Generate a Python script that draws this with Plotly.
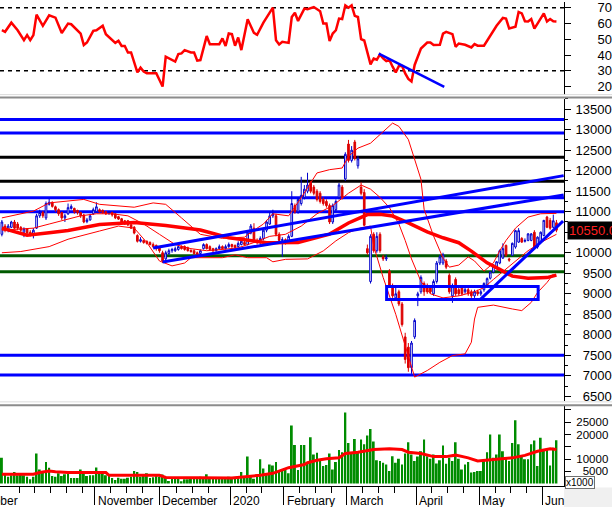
import plotly.graph_objects as go

# ----------------------------- DATA -----------------------------
# trading-day index 0..176 (mid-Oct 2019 -> early Jun 2020), prices in VND
opens = [10450,10650,10550,10620,10750,10700,10620,10500,10580,10500,
         10450,10600,10900,10980,10850,11180,11230,11120,11050,10980,
         10850,10950,11080,11080,11030,10980,10920,10760,10800,10950,
         11000,11050,11030,11000,10950,10980,10950,10880,10830,10780,
         10780,10680,10620,10420,10280,10300,10280,10250,10200,10180,
         10120,10000,9850,9980,10050,10050,10080,10150,10150,10120,
         10060,10050,10000,9980,10100,10200,10150,10100,10050,10100,
         10150,10100,10150,10200,10180,10150,10200,10250,10200,10480,
         10600,10300,10280,10350,10550,10700,10900,10900,10450,10300,
         10320,10300,10400,11150,11000,11200,11350,11500,11700,11600,
         11500,11450,11300,11250,11150,10750,11050,11350,11600,11800,
         12650,12250,12700,12120,11600,11470,10100,9300,10450,10050,
         10450,9900,9850,9550,9200,8900,9050,8750,7950,7700,
         7200,7950,8950,9050,9250,9200,9150,9000,9300,9750,
         9750,9800,9450,8950,9350,9100,9150,9050,9100,9050,
         8950,9050,9000,9100,9210,9380,9530,9620,9750,9870,
         10180,9850,9940,10140,10260,10350,10280,10300,10300,10500,
         10140,10260,10420,10870,10790,10620,10730]
highs = [10800,10700,10700,10780,10800,10750,10650,10620,10600,10550,
         10600,10950,11050,11020,11250,11320,11250,11150,11080,11000,
         10950,11200,11180,11100,11050,11000,10950,10850,10950,11100,
         11230,11080,11060,11020,11020,11000,10960,10900,10850,10800,
         10800,10700,10650,10450,10380,10320,10300,10280,10250,10200,
         10150,10050,10050,10100,10120,10150,10180,10180,10180,10150,
         10080,10080,10030,10080,10230,10230,10180,10120,10130,10200,
         10180,10200,10250,10220,10200,10280,10320,10300,10550,10700,
         10720,10350,10400,10600,10800,11000,11050,10950,10500,10380,
         10350,10450,11500,11200,11350,11850,11650,11950,11750,11650,
         11550,11500,11350,11300,11200,11200,11300,11700,11650,12450,
         12750,12600,12750,12360,11720,11550,10200,10450,10500,10500,
         10500,9950,9950,9600,9250,9150,9100,8800,8050,7800,
         7850,8400,9050,9450,9300,9250,9200,9350,9800,9950,
         10000,9850,9500,9250,9400,9150,9200,9150,9150,9100,
         9100,9100,9100,9280,9400,9550,9720,9800,10080,10230,
         10200,9880,10250,10560,10600,10380,10350,10480,10480,10550,
         10400,10520,10800,10900,10850,10930,10800]
lows = [10400,10500,10500,10600,10580,10550,10500,10380,10450,10400,
        10350,10580,10850,10850,10800,11150,11100,11000,10900,10800,
        10750,10920,11050,10950,10930,10850,10720,10720,10780,10920,
        10980,10980,10950,10920,10930,10880,10820,10800,10730,10680,
        10650,10580,10450,10250,10250,10220,10200,10180,10120,10050,
        10000,9750,9820,9950,10000,10020,10050,10080,10050,10030,
        10000,9950,9920,9950,10080,10080,10050,10020,10030,10080,
        10080,10080,10120,10120,10100,10130,10180,10180,10180,10450,
        10280,10200,10150,10300,10500,10680,10850,10400,10250,9900,
        10200,10250,10380,10950,10950,11150,11300,11450,11450,11400,
        11250,11200,11150,11100,10700,10700,11000,11300,11300,11750,
        12200,12200,12250,12050,11400,10650,9950,9250,10000,10000,
        10000,9800,9800,9150,8900,8850,8700,8200,7300,7100,
        7050,7900,8700,9000,8950,9000,9000,8950,9250,9700,
        9700,9600,9000,8780,8950,8950,8950,9000,8950,8900,
        8900,8950,8950,9050,9180,9350,9500,9600,9720,9850,
        9900,9780,9920,10100,10240,10240,10250,10280,10280,10120,
        10100,10240,10400,10600,10560,10600,10500]
closes = [10750,10550,10650,10750,10600,10600,10550,10580,10480,10450,
          10550,10900,10980,10900,11200,11230,11130,11050,10950,10850,
          10900,11100,11130,11000,10980,10900,10750,10800,10900,11050,
          11120,11000,10980,10950,10980,10920,10850,10820,10750,10700,
          10680,10600,10480,10280,10320,10250,10230,10200,10150,10100,
          10050,9800,10000,10050,10080,10100,10150,10100,10080,10050,
          10030,9980,9950,10050,10200,10100,10080,10050,10100,10150,
          10100,10150,10200,10150,10130,10230,10280,10200,10480,10650,
          10300,10250,10350,10550,10750,10900,10950,10450,10300,10320,
          10280,10400,11200,11000,11300,11400,11550,11650,11500,11450,
          11300,11250,11200,11150,10750,11150,11250,11650,11350,12400,
          12250,12500,12300,12290,11450,10670,10000,10400,10050,10400,
          10050,9850,9880,9200,8950,9000,8750,8250,7400,7200,
          7800,8350,9000,9400,9050,9050,9050,9300,9750,9900,
          9950,9650,9050,9200,9000,9000,9000,9100,9000,8950,
          9050,9000,9050,9250,9370,9530,9700,9780,10050,10100,
          9940,9820,10230,10540,10540,10260,10300,10460,10460,10140,
          10380,10500,10790,10620,10600,10780,10550]
volumes = [10500,3800,2800,3400,4700,3400,3800,3400,2800,1800,
           2800,12300,5800,4500,8800,6500,3100,2800,4200,3100,
           3800,3900,2300,2300,2300,5800,4500,3100,3400,3400,
           6600,4200,4200,3400,3100,2300,1500,2400,2000,2000,
           2400,2800,5100,4700,2800,3400,4200,2300,2600,3100,
           2800,3700,2800,1100,2000,2300,2300,950,1800,1800,
           2000,2300,2300,2800,2000,3800,2300,2000,2000,2000,
           2000,2000,2800,2000,2300,2300,4700,2300,11100,2800,
           2000,3400,9900,6200,3800,7800,7400,8800,5100,5500,
           5500,4200,23700,15700,5500,15700,15700,
           8500,18900,11900,12600,9900,7200,7600,12300,5800,8800,
           13700,12800,29000,16600,12600,18200,13200,18000,16000,19600,
           22300,17200,9500,9200,8500,7800,5100,11200,8500,10100,
           7800,12300,16900,11900,9200,11000,13200,18000,11200,10100,
           11900,8200,9500,15500,8100,10500,9200,16900,10100,5800,
           7800,8800,4500,4700,5100,5100,9200,12800,20000,10500,
           11900,20000,13200,10100,9200,16600,25800,16000,11200,9900,
           9900,16000,17600,7200,18700,13900,14200,7400,14600,17700]
days = list(range(len(closes)))

# indicator lines (day index, value)
ma_long_day = [0, 8, 15, 21, 31, 42, 52, 63, 72, 84, 94, 104, 110, 116, 120, 124, 129, 135, 140, 145, 149, 151, 154, 158, 162, 167, 173, 176]
ma_long_val = [10600, 10430, 10490, 10545, 10690, 10735, 10665, 10555, 10365, 10245, 10250, 10455, 10725, 10930, 10940, 10895, 10730, 10510, 10365, 10245, 10040, 9915, 9755, 9595, 9430, 9380, 9395, 9455]
ma20_day = [0, 5, 10, 15, 20, 25, 30, 35, 40, 45, 50, 55, 60, 65, 70, 75, 80, 85, 90, 95, 100, 105, 110, 114, 117, 120, 123, 126, 128, 130, 133, 136, 140, 145, 150, 153, 156, 160, 163, 167, 171, 176]
ma20_val = [10550, 10580, 10600, 10700, 10800, 10900, 10950, 10950, 10900, 10700, 10450, 10200, 10100, 10050, 10080, 10120, 10250, 10400, 10450, 10650, 10950, 11150, 11450, 11650, 11550, 11350, 11100, 10700, 10300, 9850, 9300, 9000, 8900, 8950, 9050, 9150, 9350, 9600, 9800, 10050, 10250, 10450]
bb_up_day = [0, 10, 15, 26, 31, 42, 48, 52, 57, 63, 70, 77, 80, 83, 86, 91, 95, 100, 104, 108, 110, 113, 117, 121, 124, 126, 129, 133, 134, 137, 140, 142, 145, 148, 150, 153, 156, 158, 160, 163, 167, 171, 176]
bb_up_val = [10850, 11015, 11215, 11300, 11180, 11110, 11215, 11180, 10850, 10450, 10350, 10380, 10550, 10700, 10950, 10900, 11340, 11945, 12025, 12065, 12350, 12550, 12670, 12950, 13160, 13080, 12760, 11790, 11060, 10410, 9870, 9650, 9700, 9900, 9800, 9550, 9750, 10050, 10300, 10600, 10870, 10950, 10960]
bb_lo_day = [0, 6, 15, 21, 31, 37, 42, 46, 50, 54, 58, 60, 70, 74, 78, 84, 86, 90, 97, 102, 106, 110, 114, 117, 118, 121, 125, 128, 131, 135, 139, 143, 147, 149, 150, 151, 156, 162, 165, 168, 170, 173, 175]
bb_lo_val = [10000, 10030, 10150, 10330, 10530, 10650, 10600, 10250, 9800, 9680, 9750, 9880, 9880, 9950, 9880, 9880, 9780, 9840, 9850, 10045, 10290, 10490, 10610, 10650, 10165, 9400, 8500, 7740, 6970, 7130, 7330, 7495, 7535, 7820, 8385, 8670, 8725, 8630, 8590, 8790, 9030, 9275, 9480]
vol_ma_day = [0, 10, 12, 15, 17, 21, 33, 34, 50, 52, 73, 78, 82, 86, 91, 96, 97, 100, 103, 107, 109, 113, 118, 123, 127, 129, 133, 137, 141, 144, 148, 151, 156, 162, 166, 170, 174, 176]
vol_ma_val = [3800, 3800, 4500, 5100, 4800, 4500, 4500, 3400, 3400, 2500, 2300, 2800, 3400, 4200, 6500, 7800, 8500, 9500, 10100, 10500, 12300, 12800, 13900, 14200, 13900, 12800, 12300, 11000, 11000, 11600, 10500, 9200, 9900, 10500, 11500, 13200, 14200, 13900]
rsi_day = [0, 1, 3, 5, 7, 8, 9, 10, 11, 13, 15, 17, 19, 21, 22, 25, 26, 27, 29, 30, 32, 33, 36, 37, 38, 39, 40, 41, 43, 44, 45, 46, 49, 51, 52, 53, 55, 56, 57, 58, 60, 61, 62, 63, 65, 66, 69, 70, 71, 72, 73, 74, 75, 76, 78, 80, 81, 83, 85, 86, 87, 88, 89, 91, 92, 93, 94, 96, 97, 99, 101, 102, 103, 104, 105, 106, 107, 108, 109, 110, 111, 112, 113, 114, 115, 117, 118, 119, 120, 121, 122, 123, 124, 125, 126, 127, 128, 129, 130, 131, 133, 135, 136, 137, 139, 140, 141, 143, 144, 145, 147, 149, 150, 151, 153, 156, 157, 159, 160, 161, 163, 164, 165, 166, 167, 168, 169, 170, 172, 173, 174, 175, 176]
rsi_val = [55.7, 54.7, 60.5, 55.7, 49.4, 52.6, 49.4, 52.6, 65.6, 58.5, 65.2, 63.7, 54.0, 59.9, 59.5, 53.6, 46.3, 47.9, 55.3, 55.7, 58.5, 53.2, 47.7, 49.0, 45.7, 45.7, 41.6, 41.6, 29.0, 32.0, 29.5, 28.4, 28.4, 20.0, 38.9, 37.8, 35.8, 40.6, 41.0, 43.1, 41.6, 41.6, 36.4, 36.8, 52.0, 46.9, 46.9, 50.5, 45.7, 53.6, 53.2, 45.9, 51.1, 43.1, 62.7, 54.0, 52.8, 60.5, 67.3, 70.0, 49.4, 46.7, 48.4, 47.7, 64.1, 66.8, 61.6, 69.4, 69.0, 70.4, 67.7, 59.9, 59.9, 48.8, 53.6, 55.7, 63.1, 62.8, 71.5, 70.0, 71.5, 64.8, 64.1, 50.1, 49.2, 34.1, 37.8, 37.0, 40.4, 37.8, 36.2, 36.8, 32.6, 29.0, 33.0, 33.0, 28.4, 24.9, 23.2, 33.7, 44.1, 47.9, 47.9, 46.3, 46.5, 53.6, 54.7, 53.2, 45.2, 47.3, 46.5, 44.8, 46.9, 45.9, 45.9, 55.7, 58.5, 63.5, 63.1, 56.8, 57.9, 67.3, 66.4, 61.4, 61.3, 62.8, 56.8, 59.9, 66.4, 61.3, 62.8, 61.4, 61.3]

# support / resistance levels
level_prices = [13250, 12920, 12330, 11740, 11340, 11000, 9930, 9540, 7500, 7020]
level_colors = ["#0000FF", "#0000FF", "#000000", "#000000", "#0000FF", "#0000FF", "#005A00", "#005A00", "#0000FF", "#0000FF"]
# trend lines: (day0, price0, day1, price1)
trend_lines = [(48, 10116, 178.3, 11880), (51, 9777, 178.3, 11410), (151.7, 8854, 178.1, 10772)]
box_days = [122.1, 170.2]
box_prices = [8860, 9180]
rsi_trend = (119.6, 40.9, 140.4, 19.8)

month_bounds = [29.5, 50, 72.5, 89.5, 109.5, 131.5, 151.5, 171.5]
month_labels = ["November", "December", "2020", "February", "March", "April", "May", "Jun"]
week_ticks = [5.5, 10.5, 15.5, 20.5, 25.5, 34.5, 39.5, 44.5, 55.5, 60.5, 65.5, 77.5, 82.5, 94.5, 99.5, 104.5, 114.5, 119.5, 124.5, 136.5, 141.5, 146.5, 156.5, 161.5, 166.5]
price_ticks = list(range(6500, 14000, 500))
rsi_ticks = [20, 30, 40, 50, 60, 70]
vol_ticks = [5000, 10000, 15000, 20000, 25000, 30000]
vol_ticktext = ["\u00a0\u00a05000", "10000", "", "20000", "25000", ""]
last_close_text = "10550.00"

# ----------------------------- FIGURE -----------------------------
W, H = 612, 507
ML, MR, MT, MB = 0, 48, 0, 21
PH = H - MT - MB
PW = W - ML - MR
def py(pix):  # paper y from pixel row
    return 1 - (pix - MT) / PH
def px(pix):
    return (pix - ML) / PW

RED = "#FF0000"
fig = go.Figure()

# horizontal levels
for lvl, col in zip(level_prices, level_colors):
    fig.add_shape(type="line", xref="x2 domain", x0=0, x1=1, yref="y2", y0=lvl, y1=lvl,
                  line=dict(color=col, width=3), layer="below")

# bands and averages
fig.add_trace(go.Scatter(x=bb_up_day, y=bb_up_val, mode="lines", line=dict(color=RED, width=1), xaxis="x2", yaxis="y2"))
fig.add_trace(go.Scatter(x=bb_lo_day, y=bb_lo_val, mode="lines", line=dict(color=RED, width=1), xaxis="x2", yaxis="y2"))
fig.add_trace(go.Scatter(x=ma20_day, y=ma20_val, mode="lines", line=dict(color=RED, width=1), xaxis="x2", yaxis="y2"))
fig.add_trace(go.Scatter(x=ma_long_day, y=ma_long_val, mode="lines", line=dict(color=RED, width=3.5), xaxis="x2", yaxis="y2"))

fig.add_trace(go.Candlestick(x=days, open=opens, high=highs, low=lows, close=closes,
                             increasing=dict(line=dict(color="#0000CC", width=1), fillcolor="white"),
                             decreasing=dict(line=dict(color="#DD0000", width=1), fillcolor="#DD0000"),
                             whiskerwidth=0, xaxis="x2", yaxis="y2"))

for (d0, p0, d1, p1) in trend_lines:
    fig.add_trace(go.Scatter(x=[d0, d1], y=[p0, p1], mode="lines", line=dict(color="#0000FF", width=3), xaxis="x2", yaxis="y2"))
fig.add_shape(type="rect", xref="x2", yref="y2", x0=box_days[0], x1=box_days[1], y0=box_prices[0], y1=box_prices[1],
              line=dict(color="#0000FF", width=3), fillcolor="rgba(0,0,0,0)")

# volume
fig.add_trace(go.Bar(x=days, y=volumes, marker=dict(color="#008C00", line=dict(width=0)), width=0.62, xaxis="x3", yaxis="y3"))
fig.add_trace(go.Scatter(x=vol_ma_day, y=vol_ma_val, mode="lines", line=dict(color=RED, width=3), xaxis="x3", yaxis="y3"))

# RSI
for lv in (70, 30):
    fig.add_shape(type="line", xref="x domain", x0=0, x1=1, yref="y", y0=lv, y1=lv,
                  line=dict(color="black", width=1.5, dash="4px,4px"), layer="below")
fig.add_trace(go.Scatter(x=rsi_day, y=rsi_val, mode="lines", line=dict(color=RED, width=2.5), xaxis="x", yaxis="y"))
fig.add_trace(go.Scatter(x=[rsi_trend[0], rsi_trend[2]], y=[rsi_trend[1], rsi_trend[3]], mode="lines",
                         line=dict(color="#0000FF", width=2.5), xaxis="x", yaxis="y"))

# separators between panels
xr = W / PW
fig.add_shape(type="line", xref="paper", yref="paper", x0=0, x1=xr, y0=py(93), y1=py(93), line=dict(color="#DCDCDC", width=1))
fig.add_shape(type="rect", xref="paper", yref="paper", x0=0, x1=xr, y0=py(97), y1=py(95), line=dict(width=0), fillcolor="#8C8C8C")
fig.add_shape(type="line", xref="paper", yref="paper", x0=0, x1=xr, y0=py(401.5), y1=py(401.5), line=dict(color="#DCDCDC", width=1))
fig.add_shape(type="rect", xref="paper", yref="paper", x0=0, x1=xr, y0=py(406), y1=py(404), line=dict(width=0), fillcolor="#8C8C8C")
fig.add_shape(type="rect", xref="paper", yref="paper", x0=1.0, x1=xr, y0=py(507), y1=py(487.5), line=dict(width=0), fillcolor="#F0F0F0")

FONT = "Liberation Sans, Arial, sans-serif"
ann = []
ann.append(dict(text="October", x=5.75, xref="x3", y=0, yref="paper", xanchor="right", yanchor="middle", yshift=-15,
                showarrow=False, font=dict(size=12, color="black", family=FONT)))
for b, lab in zip(month_bounds, month_labels):
    ann.append(dict(text=lab, x=b, xref="x3", y=0, yref="paper", xanchor="left", yanchor="middle", xshift=1, yshift=-15,
                    showarrow=False, font=dict(size=12, color="black", family=FONT)))
ann.append(dict(text=last_close_text, x=px(567), xref="paper", y=closes[-1], yref="y2", xanchor="left", yanchor="middle",
                showarrow=False, bgcolor="black", font=dict(size=13, color="#FF2020", family=FONT), borderpad=1))
ann.append(dict(text="x1000", x=px(565), xref="paper", y=py(482), yref="paper", xanchor="left", yanchor="middle",
                showarrow=False, bgcolor="white", bordercolor="#707070", borderwidth=1, borderpad=0,
                font=dict(size=10, color="black", family=FONT)))

xcommon = dict(range=[-0.6, 178.4], showgrid=False, zeroline=False, showticklabels=False, fixedrange=True)
ycommon = dict(side="right", showline=True, linecolor="black", linewidth=1, showgrid=False, zeroline=False,
               ticks="outside", ticklen=6, tickcolor="black", ticklabeloverflow="allow",
               fixedrange=True)

# the 10500 label sits under the last-close box in the reference
price_ticktext = []
for v in price_ticks:
    if v == 10500:
        price_ticktext.append("")
    else:
        price_ticktext.append(("\u00a0\u00a0" if v < 10000 else "") + str(v))

fig.update_layout(
    width=W, height=H, margin=dict(l=ML, r=MR, t=MT, b=MB),
    paper_bgcolor="white", plot_bgcolor="white", showlegend=False,
    font=dict(family=FONT, size=13, color="black"),
    boxgap=0.25,
    xaxis=dict(**xcommon, anchor="y", showline=False, ticks=""),
    xaxis2=dict(**xcommon, anchor="y2", showline=False, ticks="", rangeslider=dict(visible=False)),
    xaxis3=dict(**xcommon, anchor="y3", showline=True, linecolor="black", linewidth=1, ticks="outside",
                tickvals=month_bounds, ticklen=18, tickcolor="black",
                minor=dict(tickvals=week_ticks, ticks="outside", ticklen=6, tickcolor="black")),
    yaxis=dict(**ycommon, domain=[py(93), 1], range=[14.9, 73.6], anchor="x", tickvals=rsi_ticks,
               tickfont=dict(size=13, color="black", family=FONT), ticklabelstandoff=24),
    yaxis2=dict(**ycommon, domain=[py(401), py(97)], range=[6379, 13757], anchor="x2", tickvals=price_ticks,
                ticktext=price_ticktext, tickfont=dict(size=13, color="black", family=FONT),
                minor=dict(dtick=250, tick0=0, ticks="outside", ticklen=3, tickcolor="black"),
                ticklabelstandoff=2),
    yaxis3=dict(**ycommon, domain=[0, py(406)], range=[-970, 31490], anchor="x3", tickvals=vol_ticks,
                ticktext=vol_ticktext, tickfont=dict(size=11.5, color="black", family=FONT), ticklabelstandoff=3),
    annotations=ann,
)

fig.write_html("out.html", config={"displayModeBar": False},
               post_script="document.body.style.margin='0';document.body.style.padding='0';")
